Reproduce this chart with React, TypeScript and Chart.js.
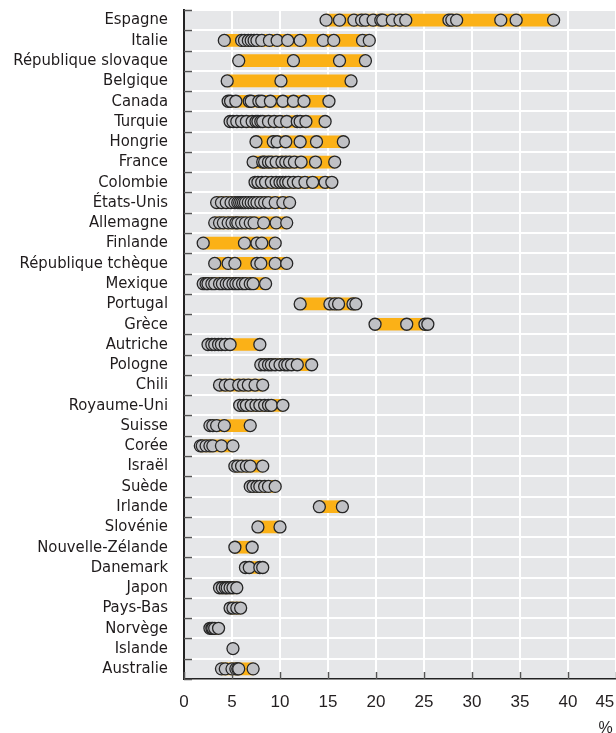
import { useEffect, useRef } from 'react';
import { Chart, registerables } from 'chart.js';

Chart.register(...registerables);

const countries = [
  'Espagne', 'Italie', 'République slovaque', 'Belgique', 'Canada', 'Turquie', 'Hongrie', 'France',
  'Colombie', 'États-Unis', 'Allemagne', 'Finlande', 'République tchèque', 'Mexique', 'Portugal',
  'Grèce', 'Autriche', 'Pologne', 'Chili', 'Royaume-Uni', 'Suisse', 'Corée', 'Israël', 'Suède',
  'Irlande', 'Slovénie', 'Nouvelle-Zélande', 'Danemark', 'Japon', 'Pays-Bas', 'Norvège', 'Islande',
  'Australie',
];

const espagne = [14.8, 16.2, 17.7, 18.5, 18.9, 19.7, 20.5, 20.7, 21.7, 22.5, 23.1, 27.6, 27.9, 28.4, 33.0, 34.6, 38.5];
const italie = [4.2, 6.0, 6.3, 6.7, 7.0, 7.3, 7.6, 8.1, 8.9, 9.7, 10.8, 12.1, 14.5, 15.6, 18.6, 19.3];
const slovaque = [5.7, 11.4, 16.2, 18.9];
const belgique = [4.5, 10.1, 17.4];
const canada = [4.6, 4.85, 5.4, 6.8, 7.0, 7.8, 8.1, 9.0, 10.3, 11.4, 12.5, 15.1];
const turquie = [4.8, 5.1, 5.5, 6.0, 6.5, 7.1, 7.5, 7.7, 8.0, 8.2, 8.8, 9.4, 10.0, 10.7, 11.8, 12.1, 12.7, 14.7];
const hongrie = [7.5, 9.3, 9.7, 10.6, 12.1, 13.8, 16.6];
const france = [7.2, 8.2, 8.4, 8.8, 9.1, 9.6, 10.2, 10.6, 11.0, 11.5, 12.2, 13.7, 15.7];
const colombie = [7.4, 7.7, 8.1, 8.5, 9.1, 9.6, 10.0, 10.3, 10.6, 10.9, 11.4, 11.9, 12.6, 13.4, 14.7, 15.4];
const etatsUnis = [3.4, 3.9, 4.4, 4.9, 5.3, 5.6, 5.8, 6.0, 6.2, 6.4, 6.7, 7.0, 7.3, 7.6, 8.0, 8.4, 8.8, 9.5, 10.3, 11.0];
const allemagne = [3.2, 3.7, 4.1, 4.6, 5.0, 5.4, 5.6, 6.0, 6.4, 6.9, 7.3, 8.3, 9.6, 10.7];
const finlande = [2.0, 6.3, 7.6, 8.1, 9.5];
const tcheque = [3.2, 4.6, 5.3, 7.6, 8.0, 9.5, 10.7];
const mexique = [2.0, 2.3, 2.5, 2.9, 3.2, 3.7, 4.0, 4.4, 4.7, 5.1, 5.4, 5.7, 6.1, 6.4, 6.9, 7.2, 8.5];
const portugal = [12.1, 15.2, 15.7, 16.1, 17.6, 17.9];
const grece = [19.9, 23.2, 25.1, 25.4];
const autriche = [2.5, 2.9, 3.2, 3.6, 3.9, 4.3, 4.8, 7.9];
const pologne = [8.0, 8.4, 8.8, 9.1, 9.5, 10.0, 10.5, 10.8, 11.2, 11.8, 13.3];
const chili = [3.7, 4.3, 4.8, 5.7, 6.2, 6.7, 7.4, 8.2];
const royaumeUni = [5.8, 6.2, 6.5, 7.0, 7.5, 7.9, 8.4, 8.8, 9.1, 10.3];
const suisse = [2.7, 3.0, 3.4, 4.2, 6.9];
const coree = [1.7, 1.9, 2.3, 2.7, 3.0, 3.9, 5.1];
const israel = [5.3, 5.6, 6.0, 6.5, 6.9, 8.2];
const suede = [6.9, 7.2, 7.6, 7.9, 8.4, 8.8, 9.5];
const irlande = [14.1, 16.5];
const slovenie = [7.7, 10.0];
const nouvelleZelande = [5.3, 7.1];
const danemark = [6.4, 6.8, 7.9, 8.2];
const japon = [3.7, 4.0, 4.3, 4.5, 4.8, 5.1, 5.5];
const paysBas = [4.8, 5.1, 5.5, 5.9];
const norvege = [2.7, 2.9, 3.0, 3.2, 3.6];
const islande = [5.1];
const australie = [3.9, 4.3, 5.0, 5.4, 5.6, 5.7, 7.2];

const seriesValues = [
  espagne, italie, slovaque, belgique, canada, turquie, hongrie, france, colombie, etatsUnis,
  allemagne, finlande, tcheque, mexique, portugal, grece, autriche, pologne, chili, royaumeUni,
  suisse, coree, israel, suede, irlande, slovenie, nouvelleZelande, danemark, japon, paysBas,
  norvege, islande, australie,
];

const xTicks = [0, 5, 10, 15, 20, 25, 30, 35, 40, 45];

const plotDecor = {
  id: 'plotDecor',
  beforeDraw(chart: any) {
    const { ctx, chartArea } = chart;
    ctx.save();
    ctx.fillStyle = '#e6e7e9';
    ctx.fillRect(chartArea.left, chartArea.top, chartArea.right - chartArea.left, chartArea.bottom - chartArea.top);
    ctx.restore();
  },
  afterDraw(chart: any) {
    const { ctx, chartArea } = chart;
    const xs = chart.scales.x;
    const ys = chart.scales.y;
    ctx.save();
    ctx.strokeStyle = '#555';
    ctx.lineWidth = 1.5;
    const c0 = ys.getPixelForValue(0);
    const step = ys.getPixelForValue(1) - c0;
    for (let k = 0; k <= countries.length; k++) {
      const y = Math.round(c0 - step / 2 + k * step) + 0.5;
      ctx.beginPath();
      ctx.moveTo(chartArea.left, y);
      ctx.lineTo(chartArea.left + 8, y);
      ctx.stroke();
    }
    for (const v of xTicks) {
      const x = Math.round(xs.getPixelForValue(v)) + 0.5;
      ctx.beginPath();
      ctx.moveTo(x, chartArea.bottom);
      ctx.lineTo(x, chartArea.bottom - 7);
      ctx.stroke();
    }
    ctx.restore();
  },
};

export default function App() {
  const ref = useRef<HTMLCanvasElement>(null);
  useEffect(() => {
    if (!ref.current) return;
    const points: { x: number; y: string }[] = [];
    seriesValues.forEach((vals, i) => {
      [...vals].sort((a, b) => a - b).forEach((v) => points.push({ x: v, y: countries[i] }));
    });
    const ranges = seriesValues.map((vals) => [Math.min(...vals), Math.max(...vals)]);
    const chart = new Chart(ref.current, {
      type: 'bar',
      data: {
        labels: countries,
        datasets: [
          {
            type: 'scatter',
            data: points as any,
            order: 0,
            pointRadius: 6,
            pointHoverRadius: 6,
            pointBorderWidth: 1.3,
            pointBackgroundColor: '#c0c1c5',
            pointBorderColor: '#262626',
          } as any,
          {
            type: 'bar',
            data: ranges as any,
            order: 1,
            backgroundColor: '#fbb117',
            borderWidth: 0,
            borderSkipped: false,
            barThickness: 12,
          } as any,
        ],
      },
      options: {
        indexAxis: 'y',
        animation: false,
        responsive: true,
        maintainAspectRatio: false,
        layout: { autoPadding: false, padding: { top: 10, left: 0, right: 0, bottom: 0 } },
        plugins: { legend: { display: false }, tooltip: { enabled: false } },
        scales: {
          x: {
            type: 'linear',
            min: 0,
            max: 45,
            afterBuildTicks: (scale: any) => {
              scale.ticks = xTicks.map((v) => ({ value: v }));
            },
            afterFit: (scale: any) => {
              scale.height = 54;
              scale.paddingRight = 0;
              scale.paddingLeft = 0;
            },
            grid: { color: '#ffffff', lineWidth: 2, drawTicks: false },
            border: { display: true, color: '#222', width: 1.5 },
            ticks: {
              padding: 13,
              color: '#231f20',
              font: { family: '"Liberation Sans", Arial, sans-serif', size: 17 },
              maxRotation: 0,
              autoSkip: false,
              callback: (v: any) => (v === 45 ? '45\u2007\u2007\u2009' : String(v)),
            },
            title: {
              display: true,
              text: '%\u2009',
              align: 'end',
              color: '#231f20',
              padding: { top: 0, bottom: -4 },
              font: { family: '"Liberation Sans", Arial, sans-serif', size: 16, lineHeight: 1 },
            },
          },
          y: {
            type: 'category',
            offset: true,
            afterFit: (scale: any) => {
              scale.width = 184;
              scale.paddingTop = 0;
              scale.paddingBottom = 0;
            },
            grid: { color: '#ffffff', lineWidth: 2, drawTicks: false, offset: true },
            border: { display: true, color: '#222', width: 2 },
            ticks: {
              padding: 16,
              color: '#1f1b1c',
              autoSkip: false,
              font: { family: '"DejaVu Sans Condensed", "DejaVu Sans", sans-serif', size: 16.5 },
            },
          },
        },
      },
      plugins: [plotDecor],
    });
    return () => chart.destroy();
  }, []);
  return (
    <div style={{ position: 'fixed', left: 0, top: 0, width: 616, height: 733, overflow: 'hidden', background: '#fff' }}>
      <canvas ref={ref} />
    </div>
  );
}
